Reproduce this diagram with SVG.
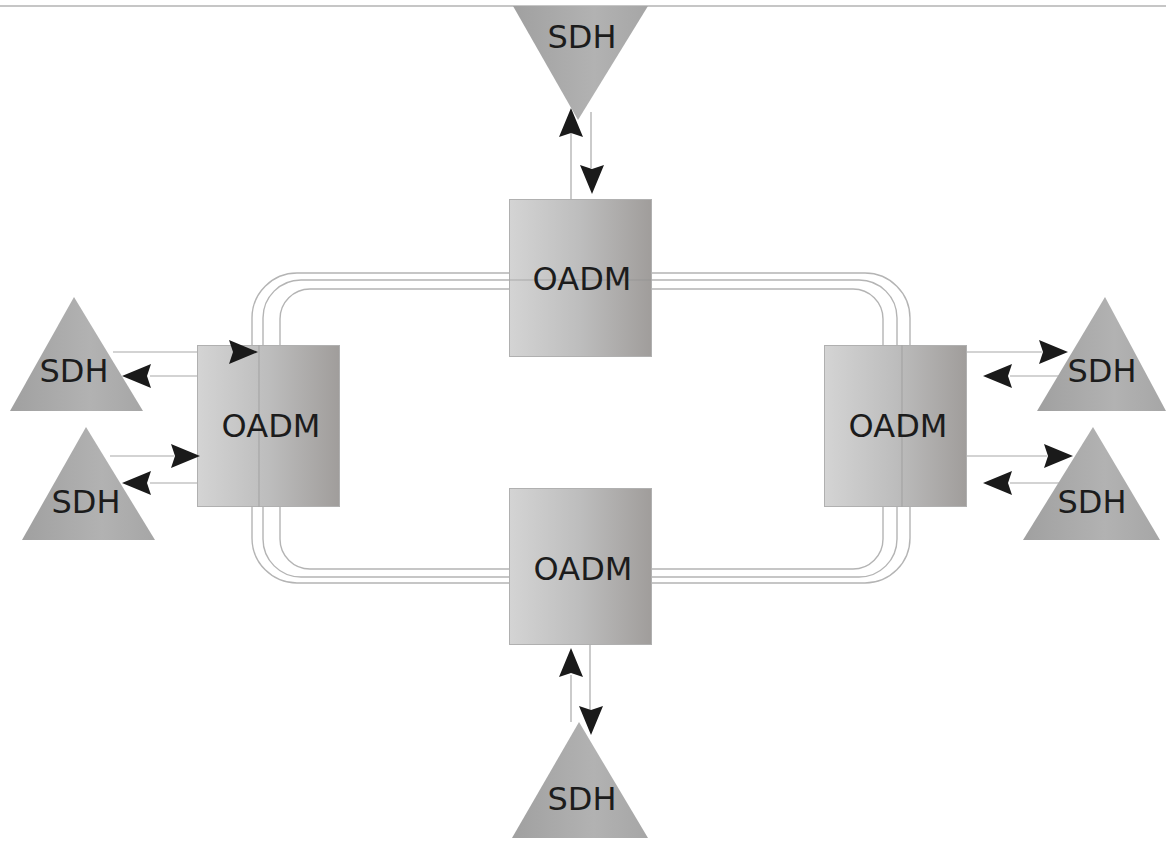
<svg xmlns="http://www.w3.org/2000/svg" xmlns:xlink="http://www.w3.org/1999/xlink" width="1166" height="844" viewBox="0 0 1166 844">
<style>
.ring{fill:none;stroke:#b4b4b4;stroke-width:1.4}
.box{stroke:#b0b0b0;stroke-width:1;fill:url(#gBox)}
.tri{fill:url(#gTri);stroke:none}
.lbl{font-family:"DejaVu Sans",Verdana,sans-serif;font-size:32px;fill:#1c1c1c;text-anchor:middle}
.con{fill:none;stroke:#a8a8a8;stroke-width:1.2}
.ah{fill:#1a1a1a}
.seam{stroke:#8f8f8f;stroke-width:1;opacity:0.6}
</style>
<defs>
<linearGradient id="gBox" x1="0" y1="0" x2="1" y2="0">
<stop offset="0" stop-color="#d4d4d4"/>
<stop offset="0.5" stop-color="#bdbdbd"/>
<stop offset="1" stop-color="#a09d9b"/>
</linearGradient>
<linearGradient id="gTri" x1="0" y1="0" x2="1" y2="0">
<stop offset="0" stop-color="#a0a0a0"/>
<stop offset="0.6" stop-color="#b2b2b2"/>
<stop offset="1" stop-color="#a6a6a6"/>
</linearGradient>
<path id="ah" d="M0,0 L-29,-12 L-25,0 L-29,12 Z"/>
</defs>
<rect x="0" y="0" width="1166" height="844" fill="#ffffff"/>
<line x1="0" y1="6" x2="1166" y2="6" stroke="#c6c6c6" stroke-width="2"/>
<g id="ring">
<rect class="ring" x="252" y="273" width="658" height="310" rx="45" ry="45"/>
<rect class="ring" x="263" y="280" width="634" height="297" rx="38" ry="38"/>
<rect class="ring" x="280" y="289" width="603" height="280" rx="30" ry="30"/>
</g>
<g id="connectors">
<line class="con" x1="571" y1="130" x2="571" y2="199"/>
<line class="con" x1="591" y1="112" x2="591" y2="168"/>
<use class="ah" xlink:href="#ah" href="#ah" transform="translate(571,108) rotate(-90)"/>
<use class="ah" xlink:href="#ah" href="#ah" transform="translate(592,194) rotate(90)"/>
<line class="con" x1="571" y1="675" x2="571" y2="722"/>
<line class="con" x1="590" y1="645" x2="590" y2="710"/>
<use class="ah" xlink:href="#ah" href="#ah" transform="translate(571,648) rotate(-90)"/>
<use class="ah" xlink:href="#ah" href="#ah" transform="translate(591,735) rotate(90)"/>
<line class="con" x1="113" y1="352" x2="232" y2="352"/>
<line class="con" x1="150" y1="376" x2="197" y2="376"/>
<line class="con" x1="110" y1="456" x2="174" y2="456"/>
<line class="con" x1="150" y1="483" x2="197" y2="483"/>
<line class="con" x1="967" y1="352" x2="1042" y2="352"/>
<line class="con" x1="1010" y1="376" x2="1062" y2="376"/>
<line class="con" x1="967" y1="456" x2="1047" y2="456"/>
<line class="con" x1="1010" y1="483" x2="1072" y2="483"/>
</g>
<g id="oadm-top">
<rect class="box" x="509.5" y="199.5" width="142" height="157"/>
<line x1="509.5" y1="280" x2="651.5" y2="280" class="seam" opacity="0.3"/>
<text class="lbl" x="582" y="290">OADM</text>
</g>
<g id="oadm-left">
<rect class="box" x="197.5" y="345.5" width="142" height="161"/>
<line class="seam" x1="259" y1="345.5" x2="259" y2="506.5"/>
<text class="lbl" x="271" y="437">OADM</text>
</g>
<g id="oadm-right">
<rect class="box" x="824.5" y="345.5" width="142" height="161"/>
<line class="seam" x1="902" y1="345.5" x2="902" y2="506.5"/>
<text class="lbl" x="898" y="437">OADM</text>
</g>
<g id="oadm-bottom">
<rect class="box" x="509.5" y="488.5" width="142" height="156"/>
<text class="lbl" x="583" y="580">OADM</text>
</g>
<g id="sdh-top">
<polygon class="tri" points="513,6 648,6 578,120"/>
<text class="lbl" x="582" y="48">SDH</text>
</g>
<g id="sdh-bottom">
<polygon class="tri" points="579,722 648,838 512,838"/>
<text class="lbl" x="582" y="810">SDH</text>
</g>
<g id="sdh-left1">
<polygon class="tri" points="74,297 143,411 10,411"/>
<text class="lbl" x="74" y="382">SDH</text>
</g>
<g id="sdh-left2">
<polygon class="tri" points="86,427 155,540 22,540"/>
<text class="lbl" x="86" y="513">SDH</text>
</g>
<g id="sdh-right1">
<polygon class="tri" points="1105,297 1166,411 1037,411"/>
<text class="lbl" x="1102" y="382">SDH</text>
</g>
<g id="sdh-right2">
<polygon class="tri" points="1093,427 1160,540 1023,540"/>
<text class="lbl" x="1092" y="513">SDH</text>
</g>
<g id="arrowheads">
<use class="ah" xlink:href="#ah" href="#ah" transform="translate(258,352)"/>
<use class="ah" xlink:href="#ah" href="#ah" transform="translate(122,376) rotate(180)"/>
<use class="ah" xlink:href="#ah" href="#ah" transform="translate(200,456)"/>
<use class="ah" xlink:href="#ah" href="#ah" transform="translate(122,483) rotate(180)"/>
<use class="ah" xlink:href="#ah" href="#ah" transform="translate(1068,352)"/>
<use class="ah" xlink:href="#ah" href="#ah" transform="translate(983,376) rotate(180)"/>
<use class="ah" xlink:href="#ah" href="#ah" transform="translate(1073,456)"/>
<use class="ah" xlink:href="#ah" href="#ah" transform="translate(983,483) rotate(180)"/>
</g>
</svg>
